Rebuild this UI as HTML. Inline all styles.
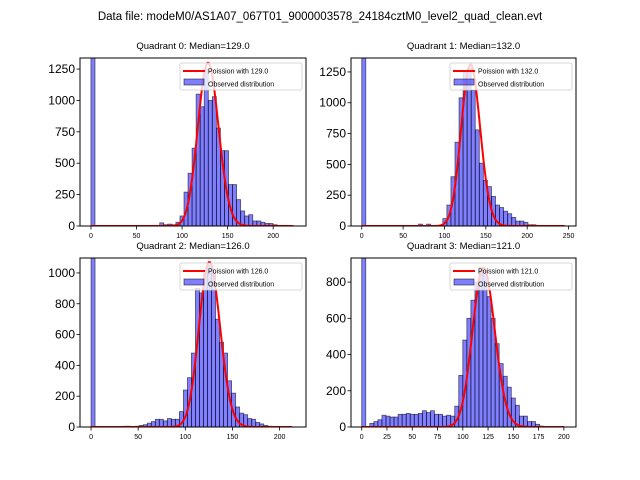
<!DOCTYPE html>
<html><head><meta charset="utf-8">
<style>
body{margin:0;background:#fff;}
svg{display:block;font-family:"Liberation Sans","DejaVu Sans",sans-serif;}
</style></head>
<body>
<svg id="fig" width="640" height="480" xmlns="http://www.w3.org/2000/svg">
<rect x="0" y="0" width="640" height="480" fill="#fff"/>
<text x="320" y="20" font-size="11.5" text-anchor="middle">Data file: modeM0/AS1A07_067T01_9000003578_24184cztM0_level2_quad_clean.evt</text>
</svg>
<script>
// Quadrant data
const titles = ["Quadrant 0: Median=129.0","Quadrant 1: Median=132.0","Quadrant 2: Median=126.0","Quadrant 3: Median=121.0"];
const medians = [129, 132, 126, 121];
const binWidths = [4.44, 4.9, 4.26, 4.0];
const q0Counts = [5000,0,0,0,0,0,0,0,0,0,0,0,0,0,0,5,0,25,10,15,10,30,80,270,420,620,1050,950,1250,1000,1030,780,600,600,330,330,210,120,80,90,40,40,30,20,20,10,5,5,3,0];
const q1Counts = [5000,0,0,0,0,0,0,0,0,0,0,0,0,0,15,0,15,0,0,0,60,170,400,680,1040,1250,1280,1100,780,510,370,320,240,170,150,120,100,70,40,40,30,10,10,5,3,0,0,0,0,3];
const q2Counts = [5000,0,0,0,0,0,0,0,5,5,0,5,10,15,25,35,50,50,40,55,50,50,100,240,320,480,900,870,1000,1050,1000,700,550,480,300,220,130,90,80,55,50,30,20,10,5,0,0,0,0,3];
const q3Counts = [5000,0,20,30,40,65,60,55,55,70,70,75,70,70,75,90,80,90,70,70,60,65,60,115,285,480,600,700,800,880,860,720,600,460,350,280,220,160,120,60,60,30,30,15,5,0,0,0,0,0];
const curvePeaks = [1300, 1310, 1070, 880];
const curveMax = [222, 245, 213, 200];
const xTicks = [[0,50,100,150,200],[0,50,100,150,200,250],[0,50,100,150,200],[0,25,50,75,100,125,150,175,200]];
const yTicks = [[0,250,500,750,1000,1250],[0,250,500,750,1000,1250],[0,200,400,600,800,1000],[0,200,400,600,800]];
const xDomains = [[-12,236],[-13,259],[-11.7,228],[-10.6,212]];
const yMaxes = [1338, 1363, 1097, 933];

const counts = [q0Counts,q1Counts,q2Counts,q3Counts];
const boxes = [[80,58,226,168],[351,58,225,168],[80,258,226,169],[351,258,225,169]];
const NS="http://www.w3.org/2000/svg";
const svg=document.getElementById('fig');
function mk(tag,attrs,parent){const e=document.createElementNS(NS,tag);for(const k in attrs)e.setAttribute(k,attrs[k]);(parent||svg).appendChild(e);return e;}

for(let q=0;q<4;q++){
  const [bx,by,bw,bh]=boxes[q];
  const [x0,x1]=xDomains[q];
  const sx=v=>bx+(v-x0)/(x1-x0)*bw;
  const sy=v=>by+bh-v/yMaxes[q]*bh;
  const g=mk('g',{});
  
  
  const cid='clip'+q;
  const cp=mk('clipPath',{id:cid},g);
  mk('rect',{x:bx,y:by,width:bw,height:bh},cp);
  const t=mk('text',{x:bx+bw/2,y:by-9,'font-size':'9.5','text-anchor':'middle'},g);
  t.textContent=titles[q];
  
  
  const bars=mk('g',{'clip-path':'url(#'+cid+')'},g);
  const w=binWidths[q];
  counts[q].forEach((c,i)=>{
    if(c<=0)return;
    const r=mk('rect',{x:sx(i*w),y:sy(c),width:sx((i+1)*w)-sx(i*w),height:sy(0)-sy(c),fill:'rgba(0,0,255,0.5)',stroke:'rgba(0,0,0,0.6)','stroke-width':'0.8'},bars);
    
    
  });
  const lam=medians[q];
  let lp=[],cur=-lam;
  for(let k=0;k<=curveMax[q];k++){ if(k>0)cur+=Math.log(lam)-Math.log(k); lp.push(cur);}
  const mx=Math.max(...lp);
  let d='';
  lp.forEach((v,k)=>{d+=(k?'L':'M')+sx(k).toFixed(2)+','+sy(curvePeaks[q]*Math.exp(v-mx)).toFixed(2);});
  const p=mk('path',{d:d,fill:'none',stroke:'red','stroke-width':'2','clip-path':'url(#'+cid+')'},g);
  
  
  mk('rect',{x:bx,y:by,width:bw,height:bh,fill:'none',stroke:'#000','stroke-width':'1'},g);
  xTicks[q].forEach(v=>{
    mk('line',{x1:sx(v),x2:sx(v),y1:by+bh,y2:by+bh+3.5,stroke:'#000','stroke-width':'0.8'},g);
    const tt=mk('text',{x:sx(v),y:by+bh+12,'font-size':'7','text-anchor':'middle'},g);
    tt.textContent=v;
    
    
  });
  yTicks[q].forEach(v=>{
    if(v>yMaxes[q])return;
    mk('line',{x1:bx-3.5,x2:bx,y1:sy(v),y2:sy(v),stroke:'#000','stroke-width':'0.8'},g);
    const tt=mk('text',{x:bx-5,y:sy(v)+4,'font-size':'12','text-anchor':'end'},g);
    tt.textContent=v;
    
    
  });
  const lx=bx+bw-126, ly=by+5;
  const lg=mk('g',{},g);
  
  
  mk('rect',{x:lx,y:ly,width:122,height:27,rx:2,fill:'rgba(255,255,255,0.8)',stroke:'#ccc','stroke-width':'0.8'},lg);
  mk('line',{x1:lx+3,x2:lx+25,y1:ly+8,y2:ly+8,stroke:'red','stroke-width':'2'},lg);
  const l1=mk('text',{x:lx+28,y:ly+10.5,'font-size':'7'},lg);
  l1.textContent='Poission with '+medians[q].toFixed(1);
  
  
  mk('rect',{x:lx+4,y:ly+16,width:20,height:6,fill:'rgba(0,0,255,0.5)',stroke:'rgba(0,0,0,0.6)','stroke-width':'0.8'},lg);
  const l2=mk('text',{x:lx+28,y:ly+23.5,'font-size':'7'},lg);
  l2.textContent='Observed distribution';
  
  
}
</script>
</body></html>
